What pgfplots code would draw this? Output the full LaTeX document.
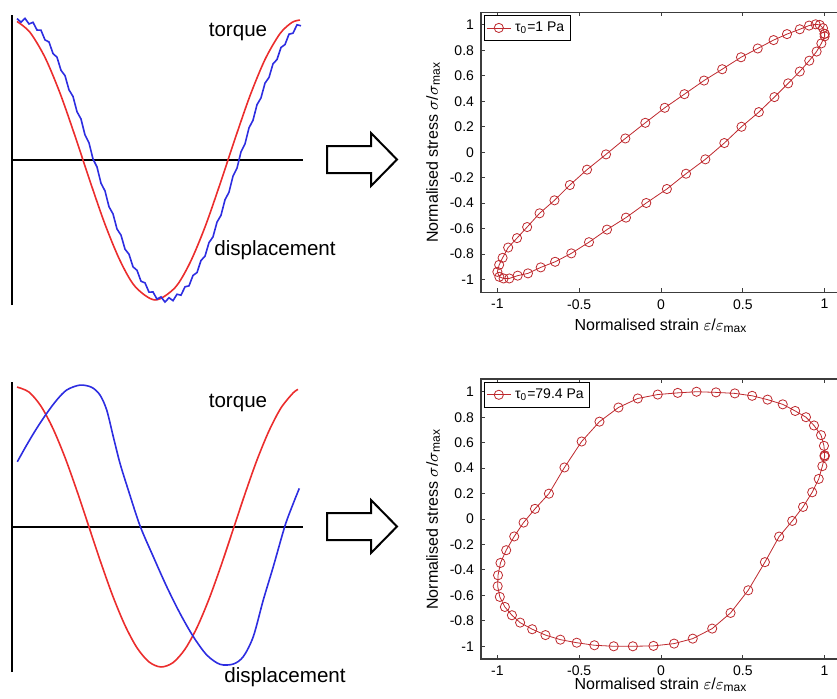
\documentclass[border=0pt]{standalone}
\usepackage{pgfplots}
\pgfplotsset{compat=1.18}
\usepackage{fontspec}
\setmainfont{Liberation Sans}
\definecolor{loopred}{RGB}{190,40,45}
\definecolor{wavered}{RGB}{235,45,45}
\definecolor{waveblue}{RGB}{45,45,225}
\definecolor{framegray}{RGB}{60,60,60}

\pgfplotsset{
  loopaxis/.style={
    scale only axis, width=180pt, height=140pt,
    xmin=-1.1, xmax=1.1, ymin=-1.1, ymax=1.1,
    xtick={-1,-0.5,0,0.5,1}, xticklabels={-1,-0.5,0,0.5,1},
    ytick={-1,-0.8,-0.6,-0.4,-0.2,0,0.2,0.4,0.6,0.8,1},
    yticklabels={-1,-0.8,-0.6,-0.4,-0.2,0,0.2,0.4,0.6,0.8,1},
    tick align=inside, tick pos=both, major tick length=2pt,
    axis line style={draw=framegray, line width=0.6pt},
    every tick/.style={framegray, line width=0.5pt},
    ticklabel style={font=\fontsize{7}{8}\selectfont},
    label style={font=\fontsize{8}{9.6}\selectfont},
    xlabel={Normalised strain $\varepsilon$/$\varepsilon$\textsubscript{max}},
    ylabel={Normalised stress $\sigma$/$\sigma$\textsubscript{max}},
    xlabel style={yshift=2pt},
    ylabel style={yshift=-2pt},
    legend style={at={(0.008,0.99)}, anchor=north west,
      font=\fontsize{7}{8}\selectfont, draw=black, line width=0.6pt,
      inner sep=1pt},
    legend cell align=left,
    legend image code/.code={\draw[mark repeat=2,mark phase=2]
      plot coordinates {(0cm,0cm) (0.21cm,0cm) (0.42cm,0cm)};},
  },
  loopline/.style={loopred, line width=0.4pt, mark=o, mark size=2.3pt,
    mark options={line width=0.4pt}},
  waveaxis/.style={
    scale only axis, width=145.5pt, height=145pt,
    xmin=12, xmax=303, ymin=-1.036, ymax=1.036,
    hide axis, clip=false,
  },
}

\begin{document}
\begin{tikzpicture}
\path[use as bounding box, clip] (0,0) rectangle (418.5pt,-349pt);

% ---- top left: torque / displacement, small lag
\begin{axis}[waveaxis, at={(6pt,-7.5pt)}, anchor=north west]
\draw[black, line width=1pt] (axis cs:12,0) -- (axis cs:303,0);
\draw[black, line width=1pt] (axis cs:12,-1.036) -- (axis cs:12,1.036);
\addplot[wavered, line width=0.8pt, smooth] coordinates {
  (17,0.990) (30,0.912) (45,0.733) (60,0.478) (75,0.172) (90,-0.151)
  (105,-0.459) (120,-0.718) (135,-0.903) (155,-1.0) (175,-0.912)
  (190,-0.734) (205,-0.479) (220,-0.172) (235,0.151) (250,0.459)
  (265,0.718) (280,0.903) (292,0.983) (300,1.0)
};
\addplot[waveblue, line width=0.8pt] coordinates {
  (17,1.010) (21,0.985) (25,1.012) (29,0.972) (33,0.984) (37,0.929)
  (41,0.927) (45,0.858) (49,0.843) (53,0.761) (57,0.734) (61,0.641)
  (65,0.603) (69,0.501) (73,0.454) (77,0.345) (81,0.293) (85,0.179)
  (89,0.123) (93,0.007) (97,-0.050) (101,-0.166) (105,-0.221) (109,-0.334)
  (113,-0.385) (117,-0.493) (121,-0.537) (125,-0.637) (129,-0.673) (133,-0.763)
  (137,-0.788) (141,-0.866) (145,-0.878) (149,-0.944) (153,-0.943) (157,-0.994)
  (161,-0.978) (165,-1.015) (169,-0.984) (173,-1.005) (177,-0.959) (181,-0.966)
  (185,-0.906) (189,-0.899) (193,-0.825) (197,-0.804) (201,-0.718) (205,-0.687)
  (209,-0.590) (213,-0.549) (217,-0.444) (221,-0.395) (225,-0.284) (229,-0.230)
  (233,-0.115) (237,-0.058) (241,0.058) (245,0.115) (249,0.230) (253,0.284)
  (257,0.395) (261,0.444) (265,0.549) (269,0.590) (273,0.687) (277,0.718)
  (281,0.804) (285,0.825) (289,0.899) (293,0.906) (297,0.966) (301,0.959)
};
\end{axis}

% ---- bottom left: torque / displacement, large lag and distortion
\begin{axis}[waveaxis, at={(6pt,-191pt)}, anchor=north west]
\draw[black, line width=1pt] (axis cs:12,0) -- (axis cs:303,0);
\draw[black, line width=1pt] (axis cs:12,-1.036) -- (axis cs:12,1.036);
\addplot[wavered, line width=0.8pt, smooth] coordinates {
  (17,1.0) (29,0.964) (41,0.863) (53,0.703) (65,0.497) (77,0.257)
  (89,0.0) (101,-0.257) (113,-0.497) (125,-0.703) (137,-0.863)
  (149,-0.964) (161,-1.0) (173,-0.969) (185,-0.873) (197,-0.718)
  (209,-0.515) (221,-0.277) (233,-0.021) (245,0.237) (257,0.479)
  (269,0.687) (281,0.851) (293,0.957) (298,0.983)
};
\addplot[waveblue, line width=0.8pt, smooth] coordinates {
  (17.3,0.466) (26.7,0.586) (36.7,0.705) (46.7,0.812) (56.7,0.907)
  (66.7,0.979) (80,1.014) (91.7,0.998) (100,0.943) (106.7,0.836)
  (113.3,0.645) (120,0.455) (128.3,0.264) (140,0.009) (153.3,-0.212)
  (166.7,-0.426) (180,-0.617) (193.3,-0.783) (206.7,-0.914) (220,-0.981)
  (233.3,-0.979) (243.3,-0.926) (253.3,-0.783) (263.3,-0.521)
  (273.3,-0.283) (285,0.009) (293.3,0.169) (299.3,0.276)
};
\end{axis}

% ---- arrows
\draw[line width=1pt, fill=white] (163.5pt,-73pt) -- (185.5pt,-73pt) -- (185.5pt,-66.5pt)
  -- (198.5pt,-79.75pt) -- (185.5pt,-93pt) -- (185.5pt,-86.5pt) -- (163.5pt,-86.5pt) -- cycle;
\draw[line width=1pt, fill=white] (163.5pt,-256.5pt) -- (185.5pt,-256.5pt) -- (185.5pt,-250pt)
  -- (198.5pt,-263.25pt) -- (185.5pt,-276.5pt) -- (185.5pt,-270pt) -- (163.5pt,-270pt) -- cycle;

% ---- top right: tau0 = 1 Pa
\begin{axis}[loopaxis, at={(240.5pt,-6.1pt)}, anchor=north west]
\addplot[loopline] coordinates {
  (1.000,0.930) (0.990,0.975) (0.970,1.000) (0.945,1.005) (0.905,0.995)
  (0.848,0.966) (0.770,0.928) (0.688,0.881) (0.591,0.815) (0.489,0.746)
  (0.374,0.652) (0.263,0.563) (0.143,0.456) (0.023,0.349) (-0.096,0.231)
  (-0.218,0.108) (-0.336,-0.017) (-0.452,-0.137) (-0.557,-0.258) (-0.651,-0.378)
  (-0.742,-0.480) (-0.818,-0.588) (-0.880,-0.675) (-0.934,-0.749) (-0.968,-0.830)
  (-0.989,-0.885) (-1.000,-0.940) (-0.988,-0.979) (-0.962,-0.992) (-0.927,-0.992)
  (-0.876,-0.970) (-0.813,-0.952) (-0.735,-0.905) (-0.647,-0.861) (-0.548,-0.795)
  (-0.440,-0.707) (-0.330,-0.608) (-0.214,-0.514) (-0.090,-0.399) (0.036,-0.289)
  (0.153,-0.169) (0.271,-0.056) (0.387,0.072) (0.492,0.200) (0.598,0.315)
  (0.693,0.433) (0.777,0.541) (0.848,0.634) (0.906,0.719) (0.951,0.791)
  (0.980,0.855) (1.000,0.910) (1.000,0.930)
};
\addlegendentry{τ\textsubscript{0}=1 Pa}
\end{axis}

% ---- bottom right: tau0 = 79.4 Pa
\begin{axis}[loopaxis, at={(240.5pt,-189.5pt)}, anchor=north west,
  xlabel style={yshift=4pt}]
\addplot[loopline] coordinates {
  (1.000,0.500) (0.996,0.575) (0.978,0.659) (0.935,0.735) (0.886,0.800)
  (0.820,0.849) (0.744,0.901) (0.651,0.938) (0.557,0.968) (0.451,0.987)
  (0.336,0.995) (0.217,1.000) (0.102,0.991) (-0.020,0.978) (-0.142,0.947)
  (-0.260,0.876) (-0.376,0.765) (-0.485,0.609) (-0.590,0.405) (-0.685,0.199)
  (-0.770,0.080) (-0.840,-0.028) (-0.897,-0.137) (-0.946,-0.245) (-0.981,-0.345)
  (-0.996,-0.442) (-0.998,-0.528) (-0.985,-0.612) (-0.954,-0.691) (-0.911,-0.756)
  (-0.861,-0.814) (-0.787,-0.866) (-0.706,-0.912) (-0.615,-0.948) (-0.515,-0.972)
  (-0.407,-0.992) (-0.289,-1.000) (-0.172,-1.000) (-0.046,-0.997) (0.080,-0.979)
  (0.194,-0.940) (0.313,-0.861) (0.425,-0.738) (0.533,-0.560) (0.635,-0.339)
  (0.722,-0.138) (0.802,-0.015) (0.868,0.095) (0.924,0.210) (0.964,0.315)
  (0.986,0.415) (1.000,0.490) (1.000,0.500)
};
\addlegendentry{τ\textsubscript{0}=79.4 Pa}
\end{axis}

% ---- wave labels
\node[font=\fontsize{10.3}{12}\selectfont] at (119pt,-16pt) {torque};
\node[font=\fontsize{10.3}{12}\selectfont] at (137.5pt,-125pt) {displacement};
\node[font=\fontsize{10.3}{12}\selectfont] at (119pt,-201.5pt) {torque};
\node[font=\fontsize{10.3}{12}\selectfont] at (142.5pt,-338.5pt) {displacement};
\end{tikzpicture}
\end{document}
